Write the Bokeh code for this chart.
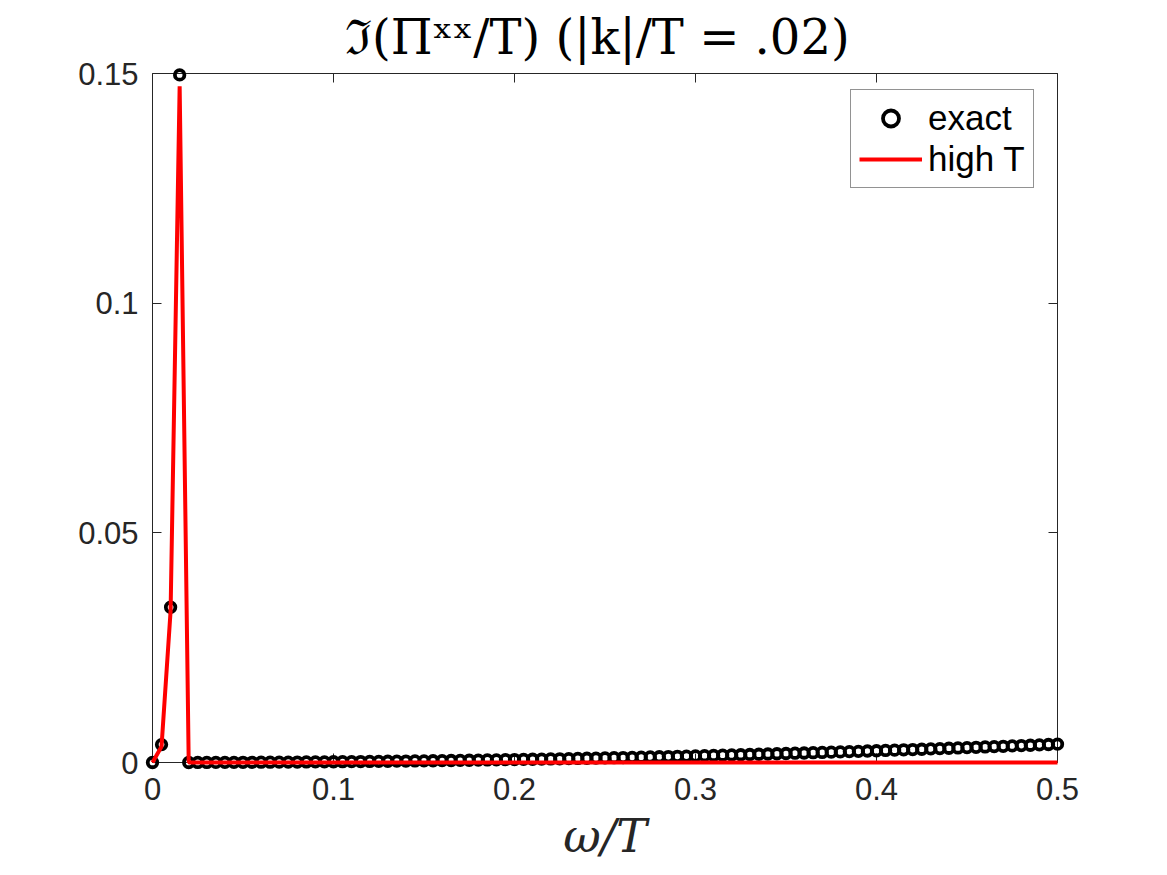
from bokeh.plotting import figure
from bokeh.models import Range1d, LinearAxis, FixedTicker, Legend, LegendItem, ColumnDataSource
from bokeh.embed import file_html
from bokeh.resources import INLINE

# ---- data ----
omega = [round(0.005 * i, 3) for i in range(101)]
exact = [0.0, 0.0039, 0.0338, 0.1497, 0.0,
         0.00001, 0.00001, 0.00002, 0.00003, 0.00003, 0.00004, 0.00005, 0.00006, 0.00007, 0.00008,
         0.00009, 0.0001, 0.00012, 0.00013, 0.00014, 0.00016, 0.00018, 0.00019, 0.00021, 0.00023,
         0.00025, 0.00027, 0.00029, 0.00031, 0.00034, 0.00036, 0.00038, 0.00041, 0.00044, 0.00046,
         0.00049, 0.00052, 0.00055, 0.00058, 0.00061, 0.00064, 0.00067, 0.00071, 0.00074, 0.00077,
         0.00081, 0.00085, 0.00088, 0.00092, 0.00096, 0.001, 0.00104, 0.00108, 0.00112, 0.00117,
         0.00121, 0.00125, 0.0013, 0.00135, 0.00139, 0.00144, 0.00149, 0.00154, 0.00159, 0.00164,
         0.00169, 0.00174, 0.0018, 0.00185, 0.0019, 0.00196, 0.00202, 0.00207, 0.00213, 0.00219,
         0.00225, 0.00231, 0.00237, 0.00243, 0.0025, 0.00256, 0.00262, 0.00269, 0.00276, 0.00282,
         0.00289, 0.00296, 0.00303, 0.0031, 0.00317, 0.00324, 0.00331, 0.00339, 0.00346, 0.00353,
         0.00361, 0.00369, 0.00376, 0.00384, 0.00392, 0.004]
high_T = [0.0, 0.0035, 0.033, 0.1472] + [0.0] * 97
x_ticks = [0, 0.1, 0.2, 0.3, 0.4, 0.5]
x_tick_labels = ["0", "0.1", "0.2", "0.3", "0.4", "0.5"]
y_ticks = [0, 0.05, 0.1, 0.15]
y_tick_labels = ["0", "0.05", "0.1", "0.15"]
x_min, x_max = 0.0, 0.5
y_min, y_max = 0.0, 0.15

title_text = "ℑ(Πˣˣ/T)  (|k|/T = .02)"
x_label = "ω/T"

# ---- layout ----
W, H = 1167, 875
box_l, box_r, box_t, box_b = 152, 1057, 73, 762
pad = 9
xpx = (box_r - box_l) / (x_max - x_min)
ypx = (box_b - box_t) / (y_max - y_min)
xr = Range1d(x_min - pad / xpx, x_max + pad / xpx)
yr = Range1d(y_min - pad / ypx, y_max + pad / ypx)

p = figure(width=W, height=H, output_backend="svg", toolbar_location=None,
           x_range=xr, y_range=yr, x_axis_location=None, y_axis_location=None,
           min_border_left=box_l - pad, min_border_right=W - box_r - pad,
           min_border_top=box_t - pad, min_border_bottom=H - box_b - pad)
p.outline_line_color = None
p.grid.grid_line_color = None
p.background_fill_color = "white"
p.border_fill_color = "white"

p.title.text = title_text
p.title.align = "center"
p.title.text_font = "DejaVu Serif"
p.title.text_font_size = "48px"
p.title.text_font_style = "normal"
p.title.text_color = "black"
p.title.standoff = 0

axcol = "#262626"


def box_axis(fixed, ticks, bounds):
    # axis line + inward ticks placed exactly on the box edge
    return LinearAxis(fixed_location=fixed, bounds=bounds, ticker=FixedTicker(ticks=ticks),
                      major_tick_in=9, major_tick_out=0, minor_tick_line_color=None,
                      axis_line_color=axcol, major_tick_line_color=axcol,
                      axis_line_width=1, major_tick_line_width=1,
                      major_label_text_font_size="1px", major_label_text_color=None,
                      major_label_standoff=0)


def label_axis(ticks, labels, standoff):
    # tick labels only (frame edge is `pad` px outside the box)
    return LinearAxis(ticker=FixedTicker(ticks=ticks),
                      major_label_overrides={str(t): l for t, l in zip(ticks, labels)},
                      major_tick_in=0, major_tick_out=0, minor_tick_line_color=None,
                      axis_line_color=None, major_tick_line_color=None,
                      major_label_text_font="Liberation Sans", major_label_text_font_size="31px",
                      major_label_text_color=axcol, major_label_standoff=standoff)


p.add_layout(box_axis(y_min, x_ticks, (x_min, x_max)), "below")
p.add_layout(box_axis(x_min, y_ticks, (y_min, y_max)), "left")
p.add_layout(box_axis(y_max, x_ticks, (x_min, x_max)), "above")
p.add_layout(box_axis(x_max, y_ticks, (y_min, y_max)), "right")

bl = label_axis(x_ticks, x_tick_labels, 6)
bl.axis_label = x_label
bl.axis_label_text_font = "DejaVu Serif"
bl.axis_label_text_font_style = "italic"
bl.axis_label_text_font_size = "46px"
bl.axis_label_text_color = axcol
bl.axis_label_standoff = 6
p.add_layout(bl, "below")
p.add_layout(label_axis(y_ticks, y_tick_labels, 5), "left")

src = ColumnDataSource(dict(omega=omega, exact=exact, high_T=high_T))
r1 = p.scatter("omega", "exact", source=src, marker="circle", size=9.5,
               fill_color=None, line_color="black", line_width=3.8, level="overlay")
r2 = p.line("omega", "high_T", source=src, line_color="red", line_width=4, level="overlay")

legend = Legend(items=[LegendItem(label="exact", renderers=[r1]),
                       LegendItem(label="high T", renderers=[r2])],
                location=(850 - (box_l - pad), (box_b + pad) - 188),
                label_text_font="Liberation Sans", label_text_font_size="35px",
                label_text_color="black",
                glyph_width=63, glyph_height=40, label_height=40,
                padding=8, spacing=1, label_standoff=6, margin=0,
                border_line_color=axcol, border_line_width=1,
                background_fill_color="white", background_fill_alpha=1.0)
p.add_layout(legend, "center")

open("out.html", "w").write(file_html(p, INLINE))
